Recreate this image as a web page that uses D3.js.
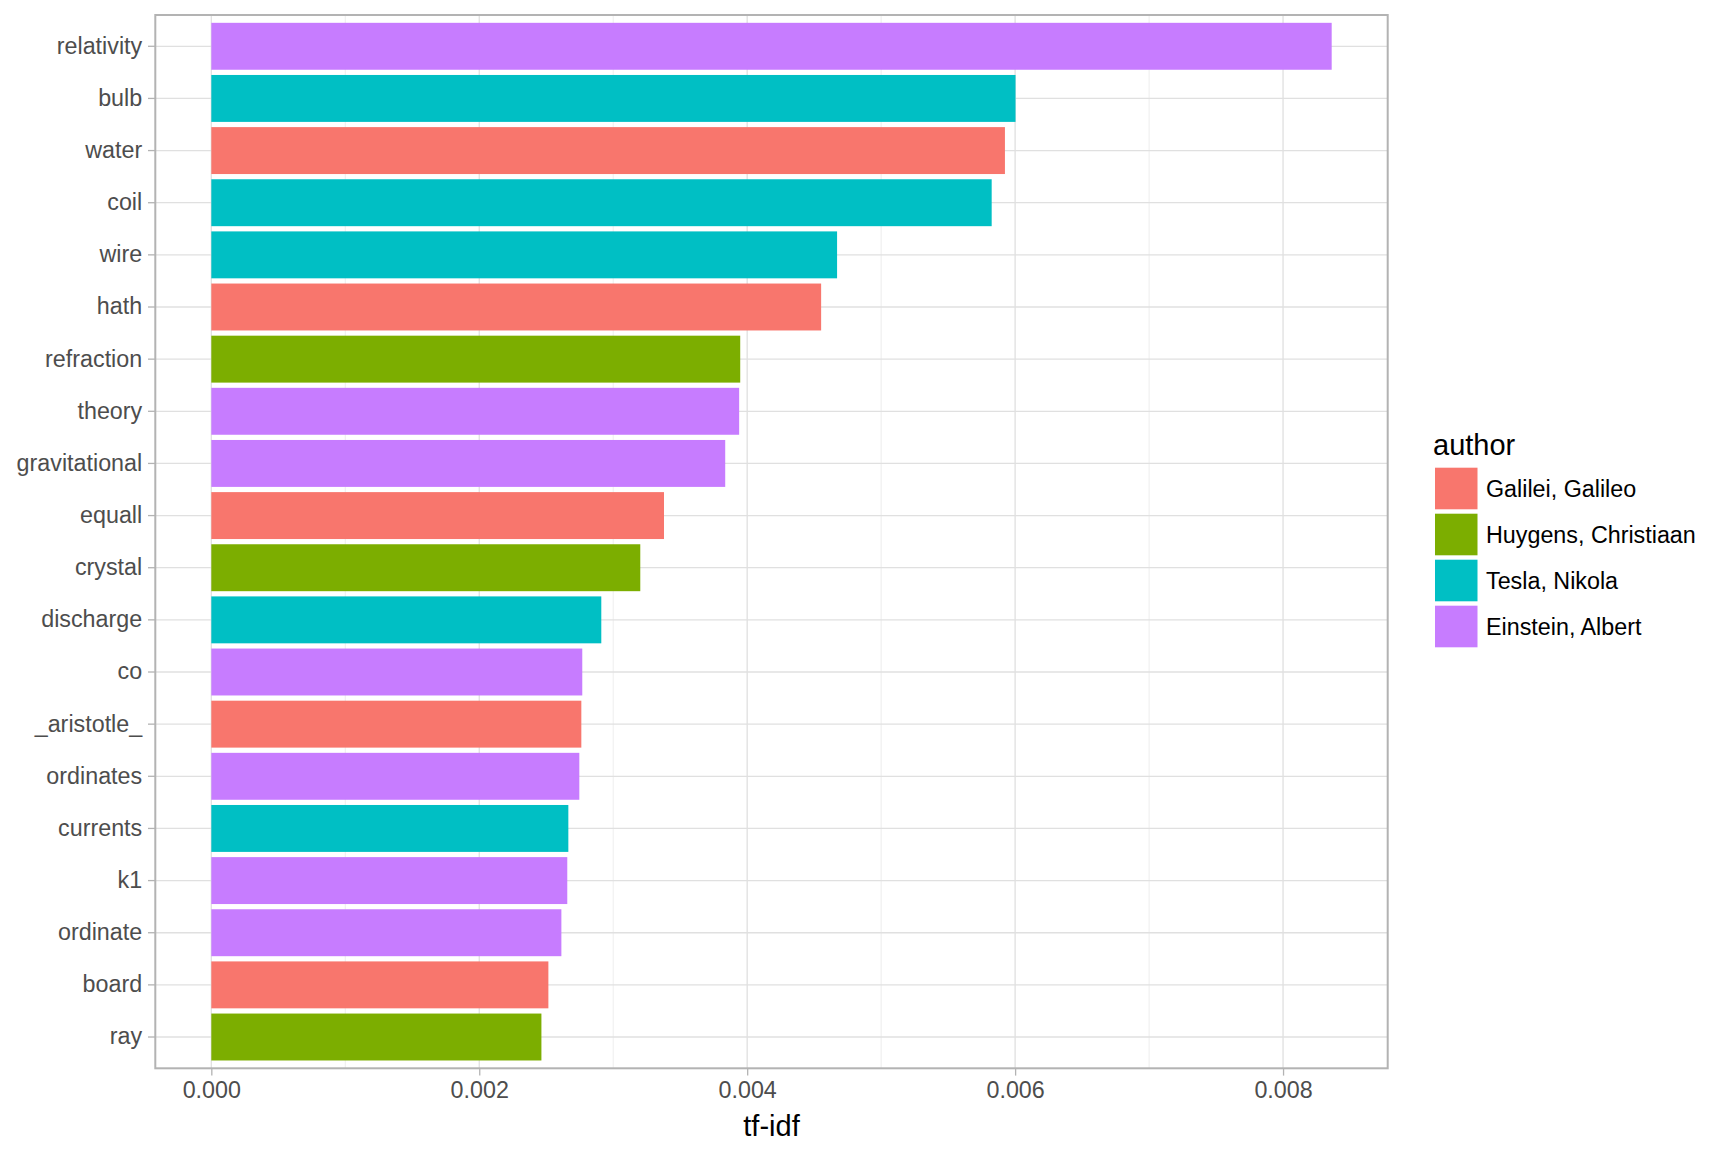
<!DOCTYPE html>
<html>
<head>
<meta charset="utf-8">
<script src="https://cdn.jsdelivr.net/npm/d3@7"></script>
<style>
  html, body { margin: 0; padding: 0; background: #fff; }
  svg { display: block; font-family: "Liberation Sans", Arial, sans-serif; }
</style>
</head>
<body>
<svg id="chart" width="1728" height="1152"></svg>
<script>
// ---- data ----
const words = ["relativity","bulb","water","coil","wire","hath","refraction","theory","gravitational","equall","crystal","discharge","co","_aristotle_","ordinates","currents","k1","ordinate","board","ray"];
const tfidf = [0.008363,0.006003,0.005924,0.005825,0.004671,0.004552,0.003948,0.003940,0.003836,0.003379,0.003202,0.002911,0.002769,0.002762,0.002747,0.002665,0.002657,0.002613,0.002516,0.002464];
const wordAuthor = ["Einstein, Albert","Tesla, Nikola","Galilei, Galileo","Tesla, Nikola","Tesla, Nikola","Galilei, Galileo","Huygens, Christiaan","Einstein, Albert","Einstein, Albert","Galilei, Galileo","Huygens, Christiaan","Tesla, Nikola","Einstein, Albert","Galilei, Galileo","Einstein, Albert","Tesla, Nikola","Einstein, Albert","Einstein, Albert","Galilei, Galileo","Huygens, Christiaan"];
const authors = ["Galilei, Galileo","Huygens, Christiaan","Tesla, Nikola","Einstein, Albert"];
const authorColors = ["#F8766D","#7CAE00","#00BFC4","#C77CFF"];
const xTicks = [0, 0.002, 0.004, 0.006, 0.008];
const xMinor = [0.001, 0.003, 0.005, 0.007];

const rows = words.map((w, i) => ({word: w, value: tfidf[i], author: wordAuthor[i]}));

// ---- layout ----
const svg = d3.select("#chart");
const P = {left: 155.3, right: 1387.7, top: 15, bottom: 1068.3};
const maxV = d3.max(tfidf);
const x = d3.scaleLinear().domain([-maxV * 0.05, maxV * 1.05]).range([P.left, P.right]);
const y = d3.scaleBand().domain(words).range([P.top, P.bottom]).paddingInner(0.1).paddingOuter(0.15);
const color = d3.scaleOrdinal().domain(authors).range(authorColors);

const tickLen = 7.3, tickPad = 5.8, tickFont = 23.3;

// panel background
svg.append("rect").attr("x", P.left).attr("y", P.top)
  .attr("width", P.right - P.left).attr("height", P.bottom - P.top).attr("fill", "#fff");

// minor grid
svg.append("g").selectAll("line").data(xMinor).join("line")
  .attr("x1", d => x(d)).attr("x2", d => x(d)).attr("y1", P.top).attr("y2", P.bottom)
  .attr("stroke", "#EBEBEB").attr("stroke-width", 0.9);
// major grid x
svg.append("g").selectAll("line").data(xTicks).join("line")
  .attr("x1", d => x(d)).attr("x2", d => x(d)).attr("y1", P.top).attr("y2", P.bottom)
  .attr("stroke", "#E0E0E0").attr("stroke-width", 1.3);
// major grid y
svg.append("g").selectAll("line").data(words).join("line")
  .attr("x1", P.left).attr("x2", P.right)
  .attr("y1", d => y(d) + y.bandwidth() / 2).attr("y2", d => y(d) + y.bandwidth() / 2)
  .attr("stroke", "#E0E0E0").attr("stroke-width", 1.3);

// bars
svg.append("g").selectAll("rect").data(rows).join("rect")
  .attr("x", x(0)).attr("y", d => y(d.word))
  .attr("width", d => x(d.value) - x(0)).attr("height", y.bandwidth())
  .attr("fill", d => color(d.author));

// border
svg.append("rect").attr("x", P.left).attr("y", P.top)
  .attr("width", P.right - P.left).attr("height", P.bottom - P.top)
  .attr("fill", "none").attr("stroke", "#B3B3B3").attr("stroke-width", 2);

// y axis
const yAxis = d3.axisLeft(y).tickSize(tickLen).tickPadding(tickPad);
const gy = svg.append("g").attr("transform", `translate(${P.left},0)`).call(yAxis);
gy.select(".domain").remove();
gy.selectAll(".tick line").attr("stroke", "#B3B3B3").attr("stroke-width", 1.3);
gy.selectAll(".tick text").attr("fill", "#4D4D4D").style("font-size", tickFont + "px")
  .style("font-family", "Liberation Sans, Arial, sans-serif");

// x axis
const xAxis = d3.axisBottom(x).tickValues(xTicks).tickFormat(d3.format(".3f")).tickSize(tickLen).tickPadding(tickPad);
const gx = svg.append("g").attr("transform", `translate(0,${P.bottom})`).call(xAxis);
gx.select(".domain").remove();
gx.selectAll(".tick line").attr("stroke", "#B3B3B3").attr("stroke-width", 1.3);
gx.selectAll(".tick text").attr("fill", "#4D4D4D").style("font-size", tickFont + "px")
  .style("font-family", "Liberation Sans, Arial, sans-serif");

// x title
svg.append("text").attr("x", (P.left + P.right) / 2).attr("y", 1136)
  .attr("text-anchor", "middle").attr("fill", "#000").style("font-size", "29px").text("tf-idf");

// legend
const L = {x: 1435, y: 467.7, w: 42.5, h: 41.6, step: 46};
svg.append("text").attr("x", 1433).attr("y", 455).attr("fill", "#000")
  .style("font-size", "29px").text("author");
const lg = svg.append("g").selectAll("g").data(authors).join("g")
  .attr("transform", (d, i) => `translate(${L.x},${L.y + i * L.step})`);
lg.append("rect").attr("width", L.w).attr("height", L.h).attr("fill", d => color(d));
lg.append("text").attr("x", 1486 - L.x).attr("y", L.h / 2 + 8.2)
  .attr("fill", "#000").style("font-size", tickFont + "px").text(d => d);
</script>
</body>
</html>
